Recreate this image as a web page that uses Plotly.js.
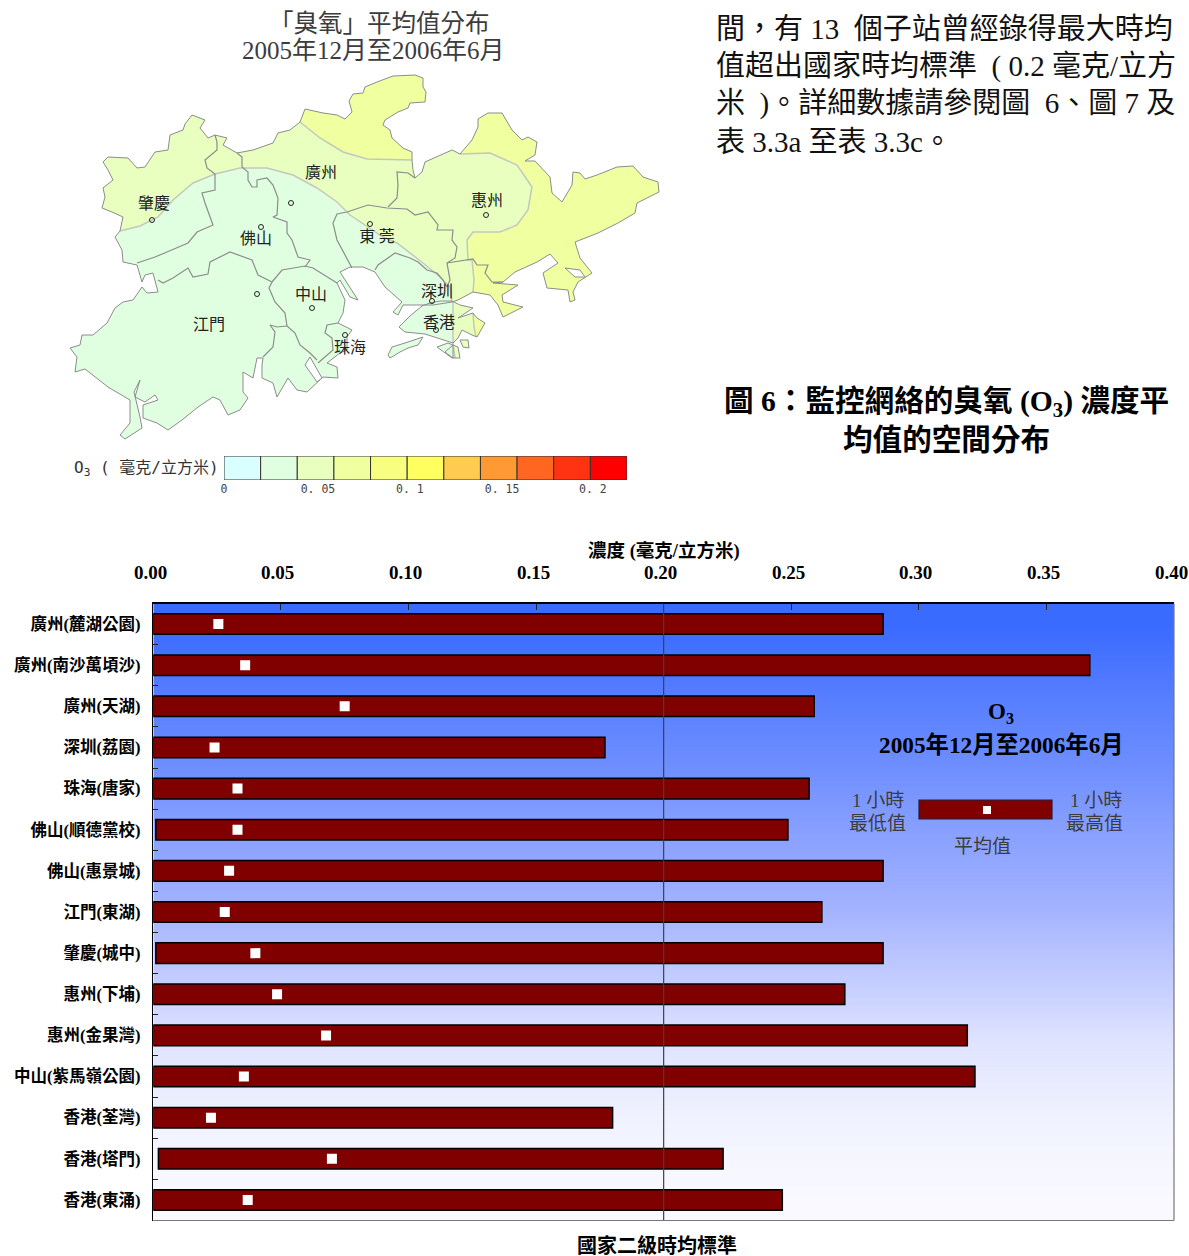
<!DOCTYPE html>
<html><head><meta charset="utf-8">
<script src="https://cdn.plot.ly/plotly-3.0.1.min.js"></script>
<style>html,body{margin:0;padding:0;background:#fff}#chart{width:1189px;height:1256px}</style>
</head><body><div id="chart"></div>
<script>
// ---------- bar chart data ----------
const stations = ['廣州(麓湖公園)','廣州(南沙萬頃沙)','廣州(天湖)','深圳(荔園)','珠海(唐家)','佛山(順德黨校)','佛山(惠景城)','江門(東湖)','肇慶(城中)','惠州(下埔)','惠州(金果灣)','中山(紫馬嶺公園)','香港(荃灣)','香港(塔門)','香港(東涌)'];
const hourlyMin = [0,0,0,0,0,0.001,0,0,0.001,0,0,0,0,0.002,0];
const hourlyMax = [0.286,0.367,0.259,0.177,0.257,0.2487,0.286,0.262,0.286,0.271,0.319,0.322,0.180,0.2233,0.2465];
const hourlyMean = [0.0255,0.036,0.075,0.024,0.033,0.033,0.0297,0.028,0.040,0.0485,0.0677,0.0355,0.0226,0.070,0.037];
const gradientLevels = [0.03,0.10,0.17,0.23,0.30,0.37,0.43,0.50,0.57,0.63,0.70,0.77,0.83,0.90,0.97];
const gradientScale = [[0,'#3366FF'],[0.5,'#A5B4FF'],[0.7,'#DDE2FF'],[0.83,'#F0F2FF'],[1,'#FBFBFF']];
const standardValue = 0.2;
const concentrationTicks = [0,0.05,0.10,0.15,0.20,0.25,0.30,0.35,0.40];

// ---------- colour key data ----------
const keyClasses = [0.01,0.03,0.05,0.07,0.09,0.11,0.13,0.15,0.17,0.19,0.21];
const keyColors = ['#D9FFFF','#E0FFE0','#E8FFC0','#F0FFA0','#F8FF80','#FFFF60','#FFCC50','#FF9933','#FF6622','#FF3311','#FF0000'];
const keyTickVals = [0,0.0513,0.1015,0.1518,0.2014];
const keyTickText = ['0','0. 05','0. 1','0. 15','0. 2'];

// ---------- map data (map units) ----------
const coastA = [[120,231],[123,217],[112,212],[102,208],[105,197],[103,188],[113,180],[108,170],[103,162],[108,157],[128,158],[137,168],[145,167],[155,152],[168,150],[170,135],[183,130],[185,124],[192,115],[205,120],[200,128],[208,138],[215,135],[227,138],[223,145],[237,153],[253,150],[273,143],[278,133],[290,130],[300,122]];
const coastB = [[305,109],[323,113],[337,115],[345,119],[352,112],[349,101],[353,94],[363,93],[365,87],[377,82],[393,76],[415,75],[423,78],[423,87],[426,92],[425,102],[410,103],[408,108],[398,112],[385,120],[383,125],[390,130],[392,138],[403,148],[412,152]];
const coastC = [[412,160],[413,170],[415,178],[422,172],[425,162],[437,157],[452,150],[460,154]];
const coastD = [[472,140],[478,127],[478,119],[488,113],[502,113],[512,130],[522,140],[528,137],[537,142],[535,155],[525,161],[535,161],[550,177],[552,193],[562,202],[572,185],[573,172],[580,173],[585,179],[597,175],[617,167],[633,166],[643,177],[658,182],[659,192],[637,203],[635,213],[618,223],[598,233],[575,242],[580,258],[592,273],[578,282],[573,292],[575,300],[570,302],[568,290],[547,288],[543,273],[558,263],[550,254],[537,262],[515,272],[503,282],[493,283],[518,285],[502,295],[503,302],[523,307],[503,317],[498,305],[490,295]];
const coastE = [[473,292],[458,300]];
const coastF = [[452,302],[433,305],[422,305],[403,305],[398,315],[393,312],[402,302],[385,287],[375,272],[363,267],[350,267],[340,272],[358,300],[350,297],[340,280],[337,283],[345,300],[343,313],[338,323],[352,330],[347,337],[347,350],[340,353],[327,363],[337,367],[338,378],[323,377],[320,380],[307,392],[297,390],[288,378],[277,397],[273,383],[262,378],[262,365],[263,358],[257,358],[253,378],[243,372],[243,392],[248,398],[240,410],[228,415],[220,400],[213,397],[198,407],[182,420],[168,430],[157,423],[143,418],[143,405],[158,400],[155,395],[145,402],[135,397],[140,380],[134,392],[140,417],[142,428],[125,439],[120,435],[130,423],[130,400],[108,387],[90,373],[85,369],[75,372],[77,357],[70,348],[80,345],[82,335],[93,335],[107,323],[115,308],[123,302],[133,300],[142,287],[147,293],[158,292],[153,273],[145,275],[142,282],[137,265],[123,262],[122,250],[115,237],[120,231]];
const contourGreen = [[120,231],[140,226],[158,217],[173,200],[193,183],[215,174],[240,168],[267,168],[293,175],[317,188],[337,202],[350,215],[383,237],[397,243],[423,263],[440,277],[450,287],[452,302]];
const contourNorth = [[300,122],[320,138],[343,152],[367,159],[412,160]];
const contourLobe = [[460,154],[490,153],[517,165],[532,187],[528,210],[517,225],[500,232],[473,232],[467,240],[468,260],[472,260],[474,280],[473,292]];
const hkMain = [[422,306],[410,316],[399,327],[405,332],[425,334],[437,338],[453,343],[458,338],[462,330],[472,335],[477,337],[485,323],[477,318],[473,313],[458,318],[473,308],[460,305],[452,301],[440,301],[430,303]];
const hkMid = [[453,301],[460,305],[473,308],[458,318],[473,313],[474,327],[472,335],[462,330],[458,338],[453,343]];
const hkYellow = [[473,313],[477,318],[485,323],[477,337],[472,335],[474,327]];
const lantau = [[388,355],[392,347],[405,343],[423,337],[418,345],[408,348],[400,352],[390,358]];
const hkIslandWest = [[437,347],[448,343],[453,345],[453,358],[445,352]];
const hkIslandEast = [[453,345],[458,347],[460,358],[452,358]];
const saiKungIslet = [[460,340],[468,340],[469,348],[463,347]];
const estuaryStrip = [[305,365],[317,382],[322,378],[310,357]];
const bayHole = [[565,268],[580,270],[585,277],[575,277]];
const cityBorders = [
 [[215,135],[217,142],[217,150],[205,160],[207,168],[215,174],[215,190],[202,193],[205,203],[213,225],[197,232],[188,243],[167,252],[155,257],[137,263]],
 [[237,153],[242,157],[242,167],[248,172],[248,180],[252,187],[257,187],[257,180],[267,178],[273,185],[278,198],[277,215],[273,217],[287,222],[287,233],[292,240],[298,257],[310,260],[305,267]],
 [[158,280],[163,283],[173,278],[188,268],[193,277],[208,274],[210,262],[230,252],[252,260],[258,275],[272,282]],
 [[272,282],[269,288],[275,302],[285,313],[287,326],[295,333],[300,345],[310,353],[317,360]],
 [[287,326],[277,327],[270,325],[275,332],[273,347],[263,357]],
 [[338,323],[327,325],[325,333],[332,338],[333,350],[318,363]],
 [[272,282],[282,270],[305,266],[313,268],[337,283]],
 [[352,268],[345,255],[337,240],[333,223],[337,214],[347,212],[368,205],[387,208],[407,209],[415,215],[428,212],[438,225],[437,230],[453,230],[452,240],[457,247],[455,258],[447,263],[450,280],[447,287]],
 [[375,270],[378,265],[395,253],[410,258],[418,262],[427,270],[437,273],[443,280],[447,287]],
 [[388,207],[397,198],[398,185],[397,172],[408,173],[415,178]],
 [[447,263],[473,259],[477,265],[488,265],[485,273],[492,282],[503,282]]
];
const hkContours = [[[453,301],[453,343],[455,358]],[[473,313],[474,327],[476,337]]];
const cityNames = ['廣州','肇慶','佛山','東 莞','惠州','中山','江門','珠海','深圳','香港'];
const cityLabelX = [321,154,256,377,487,311,209,350,437,439];
const cityLabelY = [174,205,240,238,202,296,326,349,293,324];
const cityDotX = [291,152,261,370,486,312,257,345,432,436];
const cityDotY = [203,220,227,224,215,308,294,335,301,330];

// ---------- text ----------
const paragraphLines = ['間，有\u00a013\u00a0 個子站曾經錄得最大時均','值超出國家時均標準\u00a0 (\u00a00.2 毫克/立方','米\u00a0\u00a0)。詳細數據請參閱圖\u00a0\u00a06、圖\u00a07 及','表 3.3a 至表 3.3c。'];
const paragraphY = [29,66,104,142];

const W = 1189, H = 1256;
const SERIF = '"Liberation Serif","Noto Sans CJK TC",serif';
const CJK = '"Noto Sans CJK TC","Liberation Sans",sans-serif';
const MONO = '"DejaVu Sans Mono","Noto Sans CJK TC",monospace';
const fx = v => v / W, fy = v => 1 - v / H;
const xs = a => a.map(p => p[0]), ys = a => a.map(p => p[1]);
const rev = a => a.slice().reverse();

const land = coastA.concat(coastB, coastC, coastD, coastE, coastF);
const midZone = coastA.concat(contourNorth, coastC, contourLobe, coastE, rev(contourGreen));
const greenZone = contourGreen.concat(coastF);

function poly(pts, color, line) {
  return {type:'scatter', mode: line ? 'lines' : 'none', xaxis:'x2', yaxis:'y2',
    x: xs(pts).concat([pts[0][0]]), y: ys(pts).concat([pts[0][1]]),
    fill: color ? 'toself' : 'none', fillcolor: color || undefined,
    line: line ? {color: line, width: 1} : {width: 0}, hoverinfo:'skip', showlegend:false};
}
function path(pts, color, width) {
  return {type:'scatter', mode:'lines', xaxis:'x2', yaxis:'y2', x: xs(pts), y: ys(pts),
    line:{color, width}, hoverinfo:'skip', showlegend:false};
}
const GRAY = '#8c8c8c', LIGHT = '#c4c8bc';
const traces = [
  {type:'heatmap', x:[0,0.4], y:stations, z:gradientLevels.map(v => [v,v]), zmin:0, zmax:1, zsmooth:'best',
   colorscale:gradientScale, showscale:false, hoverinfo:'skip'},
  {type:'bar', orientation:'h', y:stations, base:hourlyMin, x:hourlyMax.map((v,i)=>v-hourlyMin[i]), width:0.5,
   marker:{color:'#800000', line:{color:'#000000', width:1.5}}, hoverinfo:'skip', showlegend:false},
  {type:'scatter', mode:'markers', y:stations, x:hourlyMean, marker:{symbol:'square', size:10, color:'#FFFFFF'},
   hoverinfo:'skip', showlegend:false},
  poly(land, '#F0FFA0'),
  poly(midZone, '#E8FFC0'),
  poly(greenZone, '#E0FFE0'),
  poly(hkMain, '#E0FFE0'),
  poly(hkMid, '#E8FFC0'),
  poly(hkYellow, '#F0FFA0'),
  poly(lantau, '#E0FFE0'),
  poly(hkIslandWest, '#E0FFE0'),
  poly(hkIslandEast, '#E8FFC0'),
  poly(saiKungIslet, '#E8FFC0'),
  path(contourGreen, LIGHT, 1.5),
  path(contourNorth, LIGHT, 1.5),
  path(contourLobe, LIGHT, 1.5),
  ...hkContours.map(c => path(c, LIGHT, 1.5)),
  ...cityBorders.map(b => path(b, GRAY, 1.2)),
  poly(land, null, GRAY),
  poly(hkMain, null, GRAY),
  poly(lantau, null, GRAY),
  poly(hkIslandWest.concat(hkIslandEast), null, GRAY),
  poly(saiKungIslet, null, GRAY),
  poly(estuaryStrip, '#FFFFFF', GRAY),
  poly(bayHole, '#FFFFFF', GRAY),
  {type:'scatter', mode:'markers', xaxis:'x2', yaxis:'y2', x:cityDotX, y:cityDotY,
   marker:{symbol:'circle-open', size:5, color:'#222222', line:{width:1, color:'#222222'}}, hoverinfo:'skip', showlegend:false},
  {type:'scatter', mode:'text', xaxis:'x2', yaxis:'y2', x:cityLabelX, y:cityLabelY, text:cityNames,
   textposition:'middle center', textfont:{family:CJK, size:16, color:'#222222'}, hoverinfo:'skip', showlegend:false},
  {type:'bar', xaxis:'x3', yaxis:'y3', x:keyClasses, y:keyClasses.map(()=>1), width:0.02,
   marker:{color:keyColors, line:{color:'#333333', width:1}}, hoverinfo:'skip', showlegend:false}
];

function note(text, x, y, size, opts) {
  return Object.assign({xref:'paper', yref:'paper', x:fx(x), y:fy(y), text, showarrow:false, xanchor:'center', yanchor:'middle',
    font:{family:SERIF, size, color:'#000000'}}, opts || {});
}
const grey = s => ({font:{family:SERIF, size:s, color:'#3c3c3c'}});
const bold = s => ({font:{family:SERIF, size:s, color:'#000000', weight:'bold'}});
const annotations = [
  note('「臭氧」平均值分布', 379.5, 24, 24.5, grey(24.5)),
  note('2005年12月至2006年6月', 373.5, 51, 25, grey(25)),
  note('O<sub>3</sub> ( 毫克/立方米)', 146, 468, 16, {font:{family:MONO, size:16, color:'#333333'}}),
  ...paragraphLines.map((t,i) => note(t, 714, paragraphY[i], 29, {xanchor:'left', font:{family:SERIF, size:29, color:'#111111'}})),
  note('圖 6：監控網絡的臭氧 (O<sub>3</sub>) 濃度平', 946, 403, 30, bold(29.6)),
  note('均值的空間分布', 946, 440, 30, bold(29.6)),
  note('濃度 (毫克/立方米)', 664, 551, 18, bold(18.5)),
  note('國家二級時均標準', 657, 1245, 20, bold(20)),
  note('O<sub>3</sub>', 1001, 713, 23, bold(23)),
  note('2005年12月至2006年6月', 1001, 745, 23, bold(23.3)),
  note('1 小時', 878, 800, 19, grey(19)),
  note('最低值', 877, 823, 19, grey(19)),
  note('1 小時', 1096, 800, 19, grey(19)),
  note('最高值', 1094, 823, 19, grey(19)),
  note('平均值', 982, 846, 19, grey(19)),
  ...concentrationTicks.map(v => ({xref:'x', yref:'paper', x:v, y:fy(573), xshift:-3, text:v.toFixed(2), showarrow:false,
    xanchor:'center', yanchor:'middle', font:{family:SERIF, size:19, color:'#000000', weight:'bold'}}))
];

const shapes = [
  {type:'line', xref:'x', yref:'y domain', x0:standardValue, x1:standardValue, y0:0, y1:1, line:{color:'#404040', width:1.2}},
  {type:'line', xref:'x domain', yref:'y domain', x0:1, x1:1, y0:0, y1:1, line:{color:'#777777', width:1.2}},
  {type:'line', xref:'x domain', yref:'y domain', x0:0, x1:1, y0:0, y1:0, line:{color:'#777777', width:1.2}},
  {type:'rect', xref:'paper', yref:'paper', x0:fx(919), x1:fx(1052), y0:fy(819), y1:fy(800), fillcolor:'#800000', line:{color:'#202040', width:1.2}},
  {type:'rect', xref:'paper', yref:'paper', x0:fx(983), x1:fx(991), y0:fy(814), y1:fy(806), fillcolor:'#FFFFFF', line:{width:0}}
];

const layout = {
  width:W, height:H, autosize:false, margin:{l:0,r:0,t:0,b:0}, paper_bgcolor:'#FFFFFF', plot_bgcolor:'rgba(0,0,0,0)',
  showlegend:false, barmode:'overlay',
  xaxis:{domain:[fx(153.3), fx(1174)], range:[0,0.4], side:'top', anchor:'y', tickvals:concentrationTicks, showticklabels:false,
    ticks:'inside', ticklen:6, tickcolor:'#222222', tickwidth:1, showline:true, linecolor:'#000000', linewidth:1.5, showgrid:false, zeroline:false},
  yaxis:{domain:[fy(1220.5), fy(603.5)], type:'category', categoryorder:'array', categoryarray:stations, range:[14.5,-0.5], anchor:'x',
    tickson:'boundaries', ticks:'inside', ticklen:5, tickcolor:'#222222', tickwidth:1, showline:true, linecolor:'#000000', linewidth:1.5, showgrid:false, zeroline:false,
    ticklabelstandoff:8, tickfont:{family:SERIF, size:16.5, color:'#000000', weight:'bold'}},
  xaxis2:{domain:[0, fx(700)], range:[0,700], visible:false, anchor:'y2', fixedrange:true},
  yaxis2:{domain:[fy(500), 1], range:[500,0], visible:false, anchor:'x2', fixedrange:true},
  xaxis3:{domain:[fx(224), fx(627)], range:[0,0.22], anchor:'y3', tickvals:keyTickVals, ticktext:keyTickText, ticks:'', showline:false, showgrid:false, zeroline:false,
    tickfont:{family:MONO, size:11.5, color:'#444444'}},
  yaxis3:{domain:[fy(480), fy(456)], range:[0,1], anchor:'x3', visible:false},
  annotations, shapes
};
Plotly.newPlot('chart', traces, layout, {staticPlot:true, displayModeBar:false});
</script></body></html>
